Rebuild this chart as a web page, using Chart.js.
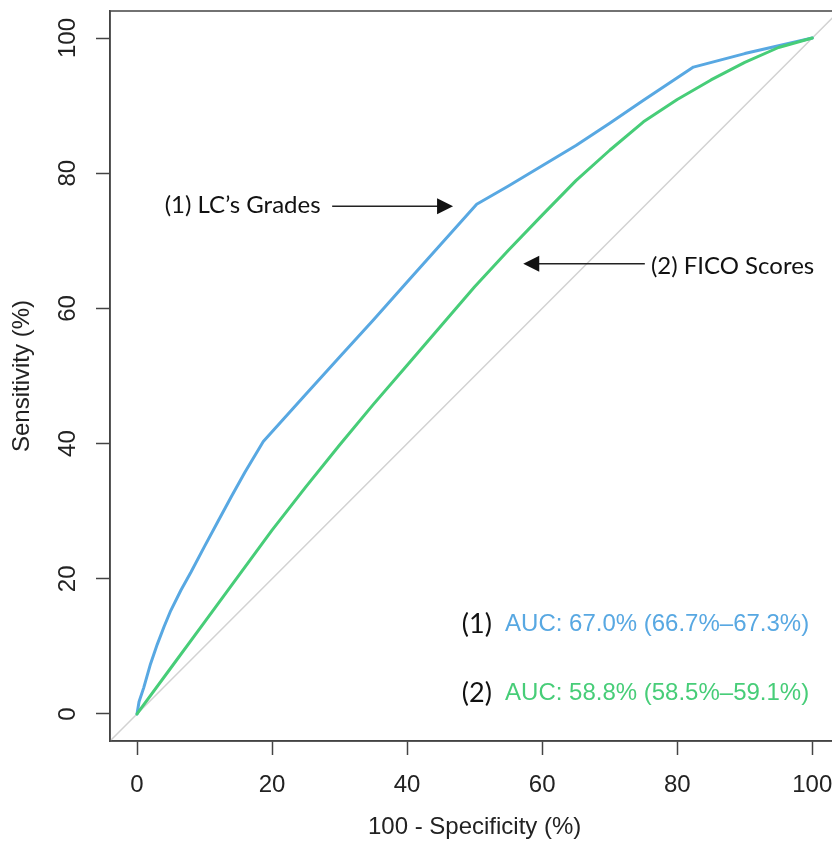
<!DOCTYPE html>
<html>
<head>
<meta charset="utf-8">
<script src="https://cdn.jsdelivr.net/npm/chart.js@4.4.1/dist/chart.umd.min.js"></script>
<style>
  html, body { margin: 0; padding: 0; background: #fff; overflow: hidden; }
  #wrap { width: 850px; height: 843px; }
</style>
</head>
<body>
<div id="wrap"><canvas id="roc" width="850" height="843"></canvas></div>
<script>
// ROC curves: 100 - specificity (%) vs sensitivity (%)
const gradesX = [0, 0.3, 1, 2, 3, 4, 5, 6.5, 8, 10, 12, 14, 16, 18.7, 25, 30, 35, 40, 45, 50.3, 55, 60, 65, 70, 75, 82.4, 90, 100];
const gradesY = [0, 1.8, 3.9, 7.4, 10.3, 12.9, 15.3, 18.3, 21, 24.8, 28.5, 32.2, 35.8, 40.3, 47.3, 52.8, 58.3, 63.9, 69.5, 75.4, 78.1, 81.1, 84.1, 87.4, 90.8, 95.7, 97.7, 100];
const ficoX = [0, 5, 10, 15, 20, 25, 30, 35, 40, 45, 50, 55, 60, 65, 70, 75, 80, 85, 90, 95, 100];
const ficoY = [0, 6.8, 13.6, 20.4, 27.2, 33.6, 39.8, 45.8, 51.6, 57.4, 63.2, 68.6, 73.8, 78.9, 83.4, 87.6, 90.9, 93.8, 96.4, 98.6, 100];
const chanceLine = [-4, 104];   // identity line across the whole plot
const tickValues = [0, 20, 40, 60, 80, 100];
const curveNames = ["(1) LC\u2019s Grades", "(2) FICO Scores"];
const aucTags = ["(1)", "(2)"];
const aucLabels = ["AUC: 67.0% (66.7%\u201367.3%)", "AUC: 58.8% (58.5%\u201359.1%)"];

const blue = "#58a8e2";
const green = "#47cd78";
const ink = "#222";
const axisFont = { family: "'Liberation Sans', Arial, sans-serif", size: 24 };
const noteFont = "Lato, 'Open Sans', sans-serif";

const toPoints = (xs, ys) => xs.map((x, i) => ({ x: x, y: ys[i] }));
const fixedTicks = (scale) => { scale.ticks = tickValues.map(v => ({ value: v })); };

// top + right sides of the box (left/bottom come from the axis borders)
const frame = {
  id: "frame",
  afterDraw(chart) {
    const { ctx, chartArea: a } = chart;
    ctx.save();
    ctx.strokeStyle = "#444";
    ctx.lineWidth = 1.5;
    ctx.strokeRect(a.left, a.top, a.right - a.left, a.bottom - a.top);
    ctx.restore();
  }
};

function arrow(ctx, x1, y1, x2, y2) {
  const dir = Math.sign(x2 - x1);
  ctx.beginPath();
  ctx.moveTo(x1, y1);
  ctx.lineTo(x2 - dir * 14, y2);
  ctx.stroke();
  ctx.beginPath();
  ctx.moveTo(x2, y2);
  ctx.lineTo(x2 - dir * 16, y2 - 8);
  ctx.lineTo(x2 - dir * 16, y2 + 8);
  ctx.closePath();
  ctx.fill();
}

const notes = {
  id: "notes",
  afterDraw(chart) {
    const { ctx } = chart;
    const x = chart.scales.x, y = chart.scales.y;
    ctx.save();
    ctx.textBaseline = "middle";
    ctx.textAlign = "left";
    ctx.fillStyle = "#111";
    ctx.strokeStyle = "#222";
    ctx.lineWidth = 1.5;

    ctx.font = "24px " + noteFont;
    ctx.fillText(curveNames[0], x.getPixelForValue(4.1), y.getPixelForValue(75.3));
    arrow(ctx, x.getPixelForValue(28.9), y.getPixelForValue(75.1), x.getPixelForValue(46.8), y.getPixelForValue(75.1));
    ctx.fillText(curveNames[1], x.getPixelForValue(76.1), y.getPixelForValue(66.2));
    arrow(ctx, x.getPixelForValue(75.2), y.getPixelForValue(66.6), x.getPixelForValue(57.2), y.getPixelForValue(66.6));

    const rows = [13.2, 3.1];
    const cols = [blue, green];
    rows.forEach((r, i) => {
      ctx.font = "27px " + noteFont;
      ctx.fillStyle = "#111";
      ctx.fillText(aucTags[i], x.getPixelForValue(48.1), y.getPixelForValue(r));
      ctx.font = "24px " + axisFont.family;
      ctx.fillStyle = cols[i];
      ctx.fillText(aucLabels[i], x.getPixelForValue(54.5), y.getPixelForValue(r));
    });
    ctx.restore();
  }
};

new Chart(document.getElementById("roc"), {
  type: "line",
  data: {
    datasets: [
      { data: toPoints(ficoX, ficoY), borderColor: green, borderWidth: 3 },
      { data: toPoints(gradesX, gradesY), borderColor: blue, borderWidth: 3 },
      { data: toPoints(chanceLine, chanceLine), borderColor: "#d2d2d2", borderWidth: 1.5 }
    ]
  },
  options: {
    responsive: false,
    animation: false,
    layout: { padding: { top: 11, right: 10.7, left: 0, bottom: 0 } },
    elements: {
      point: { radius: 0 },
      line: { tension: 0, borderJoinStyle: "round", borderCapStyle: "round" }
    },
    plugins: { legend: { display: false }, tooltip: { enabled: false } },
    scales: {
      x: {
        type: "linear",
        min: -4,
        max: 104,
        afterBuildTicks: fixedTicks,
        afterFit: (s) => { s.height = 102; s.paddingLeft = 0; s.paddingRight = 0; },
        grid: { drawOnChartArea: false, tickLength: 14, tickColor: "#444", tickWidth: 1.5 },
        border: { color: "#444", width: 1.5 },
        ticks: { font: axisFont, color: ink, padding: 16, maxRotation: 0, autoSkip: false },
        title: { display: true, text: "100 - Specificity (%)", font: axisFont, color: ink, padding: { top: 0, bottom: 1 } }
      },
      y: {
        type: "linear",
        min: -4,
        max: 104,
        afterBuildTicks: fixedTicks,
        afterFit: (s) => { s.width = 110; s.paddingTop = 0; s.paddingBottom = 0; },
        grid: { drawOnChartArea: false, tickLength: 14, tickColor: "#444", tickWidth: 1.5 },
        border: { color: "#444", width: 1.5 },
        ticks: { font: axisFont, color: ink, padding: 8, minRotation: 90, maxRotation: 90, crossAlign: "center", autoSkip: false },
        title: { display: true, text: "Sensitivity (%)", font: axisFont, color: ink, padding: { top: 8, bottom: 0 } }
      }
    }
  },
  plugins: [frame, notes]
});
</script>
</body>
</html>
